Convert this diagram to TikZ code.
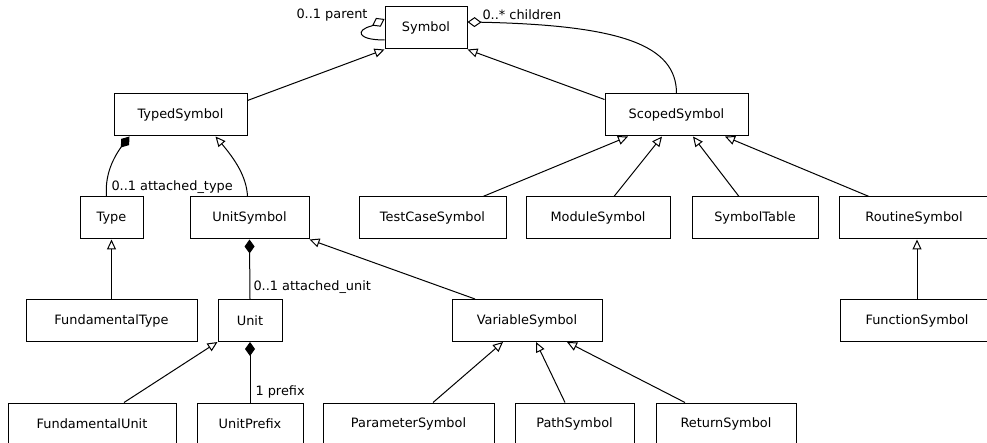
\documentclass[tikz,border=0pt]{standalone}
\usepackage{fontspec}
\setmainfont{DejaVu Sans}
\usetikzlibrary{arrows.meta,bending}

\begin{document}
\begin{tikzpicture}[x=1pt,y=-1pt,line width=1pt,
		every node/.style={font=\fontsize{12.9}{15}\selectfont},
		cls/.style={draw,minimum height=42pt,inner sep=0pt},
		inherit/.style={-{Triangle[open,length=10pt,width=9pt]}},
		compose/.style={-{Diamond[length=14pt,width=10pt]}},
		aggregate/.style={-{Diamond[open,length=14pt,width=10pt]}},
		mult/.style={inner sep=0pt}]
			\useasboundingbox (0,0) rectangle (987,443);
			% row 1 and 2
			\node[cls,minimum width=82pt] (symbol) at (426,28) {Symbol};
			\node[cls,minimum width=133pt] (typed) at (180.5,115) {TypedSymbol};
			\node[cls,minimum width=143pt] (scoped) at (676.5,115) {ScopedSymbol};
			% row 3
			\node[cls,minimum width=63pt] (type) at (111.5,218) {Type};
			\node[cls,minimum width=119pt] (unitsym) at (249.5,218) {UnitSymbol};
			\node[cls,minimum width=147pt] (testcase) at (432.5,218) {TestCaseSymbol};
			\node[cls,minimum width=144pt] (module) at (598,218) {ModuleSymbol};
			\node[cls,minimum width=126pt] (symtable) at (755,218) {SymbolTable};
			\node[cls,minimum width=150pt] (routine) at (914,218) {RoutineSymbol};
			% row 4
			\node[cls,minimum width=171pt] (ftype) at (111.5,320.5) {FundamentalType};
			\node[cls,minimum width=64pt] (unit) at (250,320.5) {Unit};
			\node[cls,minimum width=150pt] (var) at (527,320.5) {VariableSymbol};
			\node[cls,minimum width=154pt] (function) at (917,320.5) {FunctionSymbol};
			% row 5
			\node[cls,minimum width=168pt] (funit) at (92,424) {FundamentalUnit};
			\node[cls,minimum width=106pt] (uprefix) at (250,424) {UnitPrefix};
			\node[cls,minimum width=171pt] (param) at (408.5,424) {ParameterSymbol};
			\node[cls,minimum width=119pt] (path) at (574.5,424) {PathSymbol};
			\node[cls,minimum width=140pt] (return) at (726,424) {ReturnSymbol};

			% associations
			\coordinate (loopend) at ([xshift=-13pt,yshift=2pt]symbol.west);
			\draw[aggregate] ([yshift=-12pt]symbol.west) .. controls +(-28,0) and +(-16,4) .. (loopend) -- ([yshift=9pt]symbol.west);
			\node[mult,anchor=east] (parentlbl) at (368,15) {0..1 parent};
			\draw[{Diamond[open,length=14pt,width=10pt]}-] ([yshift=6pt]symbol.east) .. controls +(150,2) and +(0,-50) .. (scoped.north);
			\node[mult,anchor=west] (childlbl) at (482,15) {0..* children};
			\draw[compose] ([xshift=-5pt]type.north) .. controls +(-2,-25) and +(-14,16) .. ([xshift=-51pt]typed.south);
			\node[mult,anchor=west] (typelbl) at (111,187) {0..1 attached\_type};
			\draw[compose] (unit.north) -- (unitsym.south);
			\node[mult,anchor=west] (unitlbl) at (253,287) {0..1 attached\_unit};
			\draw[compose] (uprefix.north) -- (unit.south);
			\node[mult,anchor=west] (prefixlbl) at (255,392) {1 prefix};

			% generalisations
			\draw[inherit] ([yshift=-7pt]typed.north east) -- (symbol.south west);
			\draw[inherit] ([yshift=-6pt]scoped.north west) -- (symbol.south east);
			\draw[inherit] ([xshift=-2pt]unitsym.north) .. controls +(-1,-25) and +(12,14) .. ([xshift=35pt]typed.south);
			\draw[inherit] (ftype.north) -- (type.south);
			\draw[inherit] ([xshift=-52pt]var.north) -- (unitsym.south east);
			\draw[inherit] ([xshift=32pt]funit.north) -- (unit.south west);
			\draw[inherit] ([xshift=24.5pt]param.north) -- ([xshift=-24pt]var.south);
			\draw[inherit] ([xshift=-9.5pt]path.north) -- ([xshift=9pt]var.south);
			\draw[inherit] ([xshift=-41pt]return.north) -- ([xshift=40pt]var.south);
			\draw[inherit] ([xshift=50.5pt]testcase.north) -- ([xshift=-48.5pt]scoped.south);
			\draw[inherit] ([xshift=16pt]module.north) -- ([xshift=-14.5pt]scoped.south);
			\draw[inherit] ([xshift=-16pt]symtable.north) -- ([xshift=16.5pt]scoped.south);
			\draw[inherit] ([xshift=-45pt]routine.north) -- ([xshift=48.5pt]scoped.south);
			\draw[inherit] (function.north) -- (function.north |- routine.south);
		\end{tikzpicture}
\end{document}
